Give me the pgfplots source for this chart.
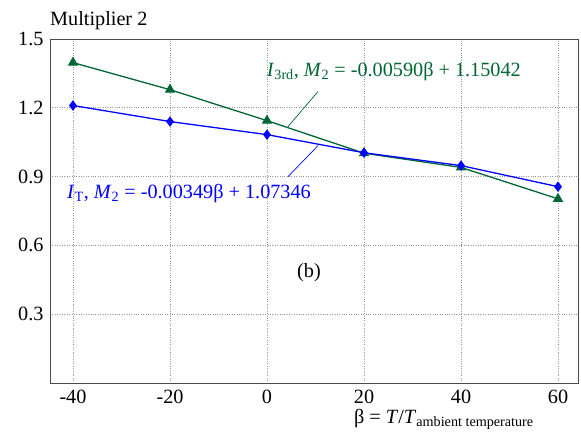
\documentclass[border=0pt]{standalone}
\usepackage{pgfplots}
\pgfplotsset{compat=1.18}
\usepackage{fontspec}
\setmainfont{Liberation Serif}
\definecolor{dgreen}{RGB}{0,102,51}
\definecolor{gridgray}{RGB}{150,150,150}
\begin{document}
\begin{tikzpicture}[font=\fontsize{20.3}{24}\selectfont]
\useasboundingbox (-50bp,-56bp) rectangle (531bp,383bp);
\begin{axis}[
  at={(0,0)}, anchor=south west,
  scale only axis, width=528bp, height=344bp,
  xmin=-44.74, xmax=64.12, ymin=0, ymax=1.5,
  xtick={-40,-20,0,20,40,60},
  ytick={0.3,0.6,0.9,1.2,1.5},
  yticklabel style={/pgf/number format/fixed,/pgf/number format/precision=1,/pgf/number format/fixed zerofill},
  /pgf/number format/assume math mode=true,
  major tick length=0pt,
  grid=major,
  major grid style={gridgray, dotted, line width=0.6pt},
  axis line style={black!70, line width=0.8pt},
  xticklabel style={yshift=-4pt},
  yticklabel style={xshift=-3pt},
  clip=false,
]
\addplot[dgreen, line width=1.3pt, mark=triangle*, mark size=4.8pt, mark options={solid}]
  coordinates {(-40,1.397) (-20,1.279) (0,1.144) (20,1.002) (40,0.940) (60,0.803)};
\addplot[blue, line width=1.3pt, mark=diamond*, mark size=4.2pt, mark options={solid}]
  coordinates {(-40,1.210) (-20,1.140) (0,1.083) (20,1.004) (40,0.948) (60,0.856)};
\draw[dgreen, line width=0.7pt] (axis cs:10.52,1.271) -- (axis cs:4.33,1.118);
\draw[blue, line width=0.7pt] (axis cs:10.52,1.035) -- (axis cs:4.33,0.900);
\node[dgreen, anchor=west, inner sep=0pt] at (axis cs:-0.06,1.358)
  {\textit{I}\textsubscript{3rd}, \textit{M}\textsubscript{2} = -0.00590β + 1.15042};
\node[blue, anchor=west, inner sep=0pt] at (axis cs:-41.24,0.825)
  {\textit{I}\textsubscript{T}, \textit{M}\textsubscript{2} = -0.00349β + 1.07346};
\node[inner sep=0pt] at (axis cs:8.66,0.480) {(b)};
\node[anchor=west, inner sep=0pt] at (rel axis cs:0,1.052) {Multiplier 2};
\node[anchor=base, inner sep=0pt] at (rel axis cs:0.746,-0.118)
  {β = \textit{T}/\textit{T}\textsubscript{ambient temperature}};
\end{axis}
\end{tikzpicture}
\end{document}
